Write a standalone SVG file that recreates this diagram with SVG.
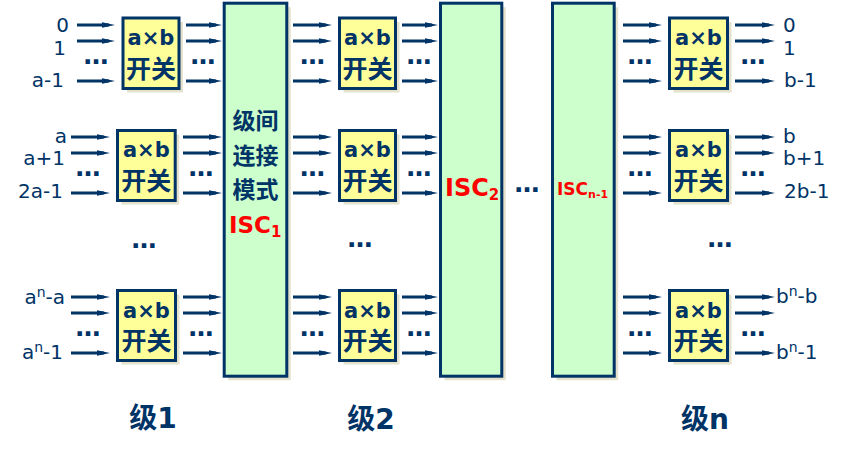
<svg xmlns="http://www.w3.org/2000/svg" width="848" height="455" viewBox="0 0 848 455">
<defs>
<marker id="ah" markerUnits="userSpaceOnUse" viewBox="-8 -4 16 8" refX="0" refY="0" markerWidth="16" markerHeight="8" orient="auto">
<path d="M-7,-2.8 L6,0 L-7,2.8 z" fill="#003366"/>
</marker>
</defs>
<style>
.bg{fill:#ffffff}
.sh{fill:#e4e1cc}
.sw{fill:#ffff99;stroke:#003366;stroke-width:3}
.isc{fill:#ccffcc;stroke:#003366;stroke-width:3}
.ln{stroke:#003366;stroke-width:3;fill:none;marker-end:url(#ah)}
.t{font-family:"DejaVu Sans","Noto Sans CJK SC",sans-serif;fill:#003366}
.lab{font-size:20px}
.ab{font-size:21px;font-weight:bold;text-anchor:middle}
.kg{font-family:"Noto Sans CJK SC",sans-serif;font-size:25px;font-weight:bold;text-anchor:middle;fill:#003366}
.dots{font-family:"DejaVu Sans",sans-serif;font-size:25px;font-weight:bold;fill:#003366;text-anchor:middle}
.red{font-family:"DejaVu Sans",sans-serif;font-weight:bold;fill:#ff0000}
.cn{font-family:"Noto Sans CJK SC",sans-serif;font-size:23px;font-weight:bold;text-anchor:middle;fill:#003366}
.stg{font-family:"DejaVu Sans","Noto Sans CJK SC",sans-serif;font-size:28px;font-weight:bold;text-anchor:middle;fill:#003366}
</style>
<rect class="bg" x="0" y="0" width="848" height="455"/>

<!-- ISC columns -->
<g id="isc1">
<rect class="sh" x="228.2" y="7.2" width="62.6" height="373"/>
<rect class="isc" x="224.2" y="3.2" width="62.6" height="373"/>
<text class="cn" x="255.5" y="129">级间</text>
<text class="cn" x="255.5" y="164">连接</text>
<text class="cn" x="255.5" y="198">模式</text>
<text class="red" x="229" y="233" font-size="23">ISC<tspan font-size="15" dy="4">1</tspan></text>
</g>
<g id="isc2">
<rect class="sh" x="444.5" y="7.2" width="61.3" height="373"/>
<rect class="isc" x="440.5" y="3.2" width="61.3" height="373"/>
<text class="red" x="445" y="196" font-size="24">ISC<tspan font-size="15" dy="4">2</tspan></text>
</g>
<g id="iscn1">
<rect class="sh" x="556.5" y="7.2" width="61.7" height="373"/>
<rect class="isc" x="552.5" y="3.2" width="61.7" height="373"/>
<text class="red" x="557" y="195" font-size="17">ISC<tspan font-size="11" dy="3">n-1</tspan></text>
</g>
<text class="dots" x="527" y="192">…</text>

<!-- Stage 1 switches -->
<g id="s1a">
<rect class="sh" x="127" y="22" width="56" height="70.5"/>
<rect class="sw" x="123" y="18" width="56" height="70.5"/>
<text class="t ab" x="151" y="45">a×b</text>
<text class="kg" x="151" y="78">开关</text>
</g>
<g id="s1b">
<rect class="sh" x="121.5" y="134.5" width="57.7" height="70"/>
<rect class="sw" x="117.5" y="130.5" width="57.7" height="70"/>
<text class="t ab" x="146.3" y="157">a×b</text>
<text class="kg" x="146.3" y="190">开关</text>
</g>
<g id="s1c">
<rect class="sh" x="121.5" y="294.5" width="58" height="70"/>
<rect class="sw" x="117.5" y="290.5" width="58" height="70"/>
<text class="t ab" x="146.5" y="318">a×b</text>
<text class="kg" x="146.5" y="350">开关</text>
</g>

<!-- Stage 2 switches -->
<g id="s2a">
<rect class="sh" x="343.5" y="22" width="56" height="70.5"/>
<rect class="sw" x="339.5" y="18" width="56" height="70.5"/>
<text class="t ab" x="367.5" y="45">a×b</text>
<text class="kg" x="367.5" y="78">开关</text>
</g>
<g id="s2b">
<rect class="sh" x="343.5" y="134.5" width="56" height="70"/>
<rect class="sw" x="339.5" y="130.5" width="56" height="70"/>
<text class="t ab" x="367.5" y="157">a×b</text>
<text class="kg" x="367.5" y="190">开关</text>
</g>
<g id="s2c">
<rect class="sh" x="343.5" y="294.5" width="56" height="70"/>
<rect class="sw" x="339.5" y="290.5" width="56" height="70"/>
<text class="t ab" x="367.5" y="318">a×b</text>
<text class="kg" x="367.5" y="350">开关</text>
</g>

<!-- Stage n switches -->
<g id="sna">
<rect class="sh" x="673.5" y="22" width="58" height="70.5"/>
<rect class="sw" x="669.5" y="18" width="58" height="70.5"/>
<text class="t ab" x="698.5" y="45">a×b</text>
<text class="kg" x="698.5" y="78">开关</text>
</g>
<g id="snb">
<rect class="sh" x="673.5" y="134.5" width="58" height="70"/>
<rect class="sw" x="669.5" y="130.5" width="58" height="70"/>
<text class="t ab" x="698.5" y="157">a×b</text>
<text class="kg" x="698.5" y="190">开关</text>
</g>
<g id="snc">
<rect class="sh" x="673.5" y="294.5" width="58" height="70"/>
<rect class="sw" x="669.5" y="290.5" width="58" height="70"/>
<text class="t ab" x="698.5" y="318">a×b</text>
<text class="kg" x="698.5" y="350">开关</text>
</g>

<!-- connectors -->
<g id="connectors">
<!-- stage 1 inputs -->
<line class="ln" x1="77" y1="25" x2="109" y2="25"/>
<line class="ln" x1="77" y1="41" x2="109" y2="41"/>
<line class="ln" x1="77" y1="81" x2="109" y2="81"/>
<line class="ln" x1="71" y1="137" x2="104" y2="137"/>
<line class="ln" x1="71" y1="153" x2="104" y2="153"/>
<line class="ln" x1="71" y1="193" x2="104" y2="193"/>
<line class="ln" x1="71" y1="297" x2="104" y2="297"/>
<line class="ln" x1="71" y1="313" x2="104" y2="313"/>
<line class="ln" x1="71" y1="353" x2="104" y2="353"/>
<!-- stage 1 outputs -->
<line class="ln" x1="186" y1="25" x2="216" y2="25"/>
<line class="ln" x1="186" y1="41" x2="216" y2="41"/>
<line class="ln" x1="186" y1="81" x2="216" y2="81"/>
<line class="ln" x1="183" y1="137" x2="216" y2="137"/>
<line class="ln" x1="183" y1="153" x2="216" y2="153"/>
<line class="ln" x1="183" y1="193" x2="216" y2="193"/>
<line class="ln" x1="183" y1="297" x2="216" y2="297"/>
<line class="ln" x1="183" y1="313" x2="216" y2="313"/>
<line class="ln" x1="183" y1="353" x2="216" y2="353"/>
<!-- stage 2 inputs -->
<line class="ln" x1="293" y1="25" x2="326" y2="25"/>
<line class="ln" x1="293" y1="41" x2="326" y2="41"/>
<line class="ln" x1="293" y1="81" x2="326" y2="81"/>
<line class="ln" x1="293" y1="137" x2="326" y2="137"/>
<line class="ln" x1="293" y1="153" x2="326" y2="153"/>
<line class="ln" x1="293" y1="193" x2="326" y2="193"/>
<line class="ln" x1="293" y1="297" x2="326" y2="297"/>
<line class="ln" x1="293" y1="313" x2="326" y2="313"/>
<line class="ln" x1="293" y1="353" x2="326" y2="353"/>
<!-- stage 2 outputs -->
<line class="ln" x1="402" y1="25" x2="432" y2="25"/>
<line class="ln" x1="402" y1="41" x2="432" y2="41"/>
<line class="ln" x1="402" y1="81" x2="432" y2="81"/>
<line class="ln" x1="402" y1="137" x2="432" y2="137"/>
<line class="ln" x1="402" y1="153" x2="432" y2="153"/>
<line class="ln" x1="402" y1="193" x2="432" y2="193"/>
<line class="ln" x1="402" y1="297" x2="432" y2="297"/>
<line class="ln" x1="402" y1="313" x2="432" y2="313"/>
<line class="ln" x1="402" y1="353" x2="432" y2="353"/>
<!-- stage n inputs -->
<line class="ln" x1="623" y1="25" x2="656" y2="25"/>
<line class="ln" x1="623" y1="41" x2="656" y2="41"/>
<line class="ln" x1="623" y1="81" x2="656" y2="81"/>
<line class="ln" x1="623" y1="137" x2="656" y2="137"/>
<line class="ln" x1="623" y1="153" x2="656" y2="153"/>
<line class="ln" x1="623" y1="193" x2="656" y2="193"/>
<line class="ln" x1="623" y1="297" x2="656" y2="297"/>
<line class="ln" x1="623" y1="313" x2="656" y2="313"/>
<line class="ln" x1="623" y1="353" x2="656" y2="353"/>
<!-- stage n outputs -->
<line class="ln" x1="735" y1="25" x2="769" y2="25"/>
<line class="ln" x1="735" y1="41" x2="769" y2="41"/>
<line class="ln" x1="735" y1="81" x2="769" y2="81"/>
<line class="ln" x1="735" y1="137" x2="769" y2="137"/>
<line class="ln" x1="735" y1="153" x2="769" y2="153"/>
<line class="ln" x1="735" y1="193" x2="769" y2="193"/>
<line class="ln" x1="735" y1="297" x2="769" y2="297"/>
<line class="ln" x1="735" y1="313" x2="769" y2="313"/>
<line class="ln" x1="735" y1="353" x2="769" y2="353"/>
</g>

<!-- row dots -->
<g id="dots">
<text class="dots" x="96" y="64">…</text>
<text class="dots" x="203" y="64">…</text>
<text class="dots" x="88" y="176">…</text>
<text class="dots" x="201" y="176">…</text>
<text class="dots" x="88" y="336">…</text>
<text class="dots" x="201" y="336">…</text>
<text class="dots" x="312.5" y="64">…</text>
<text class="dots" x="419" y="64">…</text>
<text class="dots" x="312.5" y="176">…</text>
<text class="dots" x="419" y="176">…</text>
<text class="dots" x="312.5" y="336">…</text>
<text class="dots" x="419" y="336">…</text>
<text class="dots" x="640" y="64">…</text>
<text class="dots" x="753" y="64">…</text>
<text class="dots" x="640" y="176">…</text>
<text class="dots" x="753" y="176">…</text>
<text class="dots" x="640" y="336">…</text>
<text class="dots" x="753" y="336">…</text>
<text class="dots" x="144" y="248">…</text>
<text class="dots" x="360" y="247">…</text>
<text class="dots" x="720" y="247">…</text>
</g>

<!-- input labels -->
<g id="in-labels" class="t lab" text-anchor="end">
<text class="t lab" x="69" y="32">0</text>
<text class="t lab" x="66" y="55">1</text>
<text class="t lab" x="64" y="87">a-1</text>
<text class="t lab" x="67" y="143">a</text>
<text class="t lab" x="65" y="165">a+1</text>
<text class="t lab" x="63" y="198">2a-1</text>
<text class="t lab" x="65" y="304">a<tspan font-size="14" dy="-7">n</tspan><tspan dy="7">-a</tspan></text>
<text class="t lab" x="63" y="359">a<tspan font-size="14" dy="-7">n</tspan><tspan dy="7">-1</tspan></text>
</g>

<!-- output labels -->
<g id="out-labels">
<text class="t lab" x="783" y="32">0</text>
<text class="t lab" x="783" y="55">1</text>
<text class="t lab" x="784" y="87">b-1</text>
<text class="t lab" x="783" y="143">b</text>
<text class="t lab" x="783" y="165">b+1</text>
<text class="t lab" x="784" y="198">2b-1</text>
<text class="t lab" x="776" y="303">b<tspan font-size="14" dy="-7">n</tspan><tspan dy="7">-b</tspan></text>
<text class="t lab" x="776" y="359">b<tspan font-size="14" dy="-7">n</tspan><tspan dy="7">-1</tspan></text>
</g>

<!-- stage labels -->
<g id="stage-labels">
<text class="stg" x="153" y="428">级1</text>
<text class="stg" x="371" y="429">级2</text>
<text class="stg" x="705" y="429">级n</text>
</g>
</svg>
